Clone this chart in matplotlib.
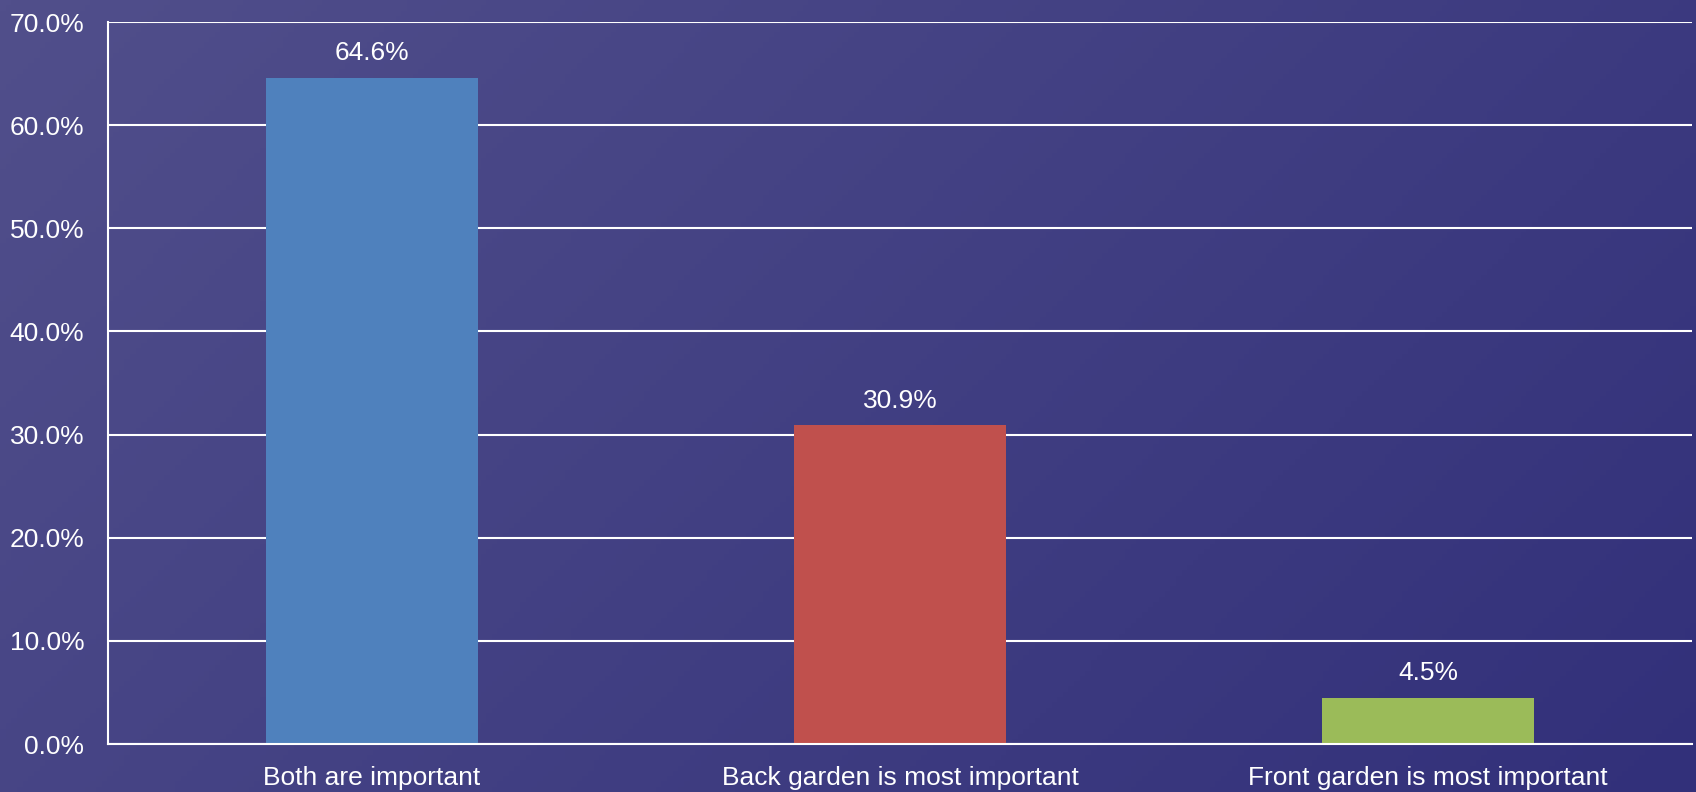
import numpy as np
import matplotlib
matplotlib.use('Agg')
import matplotlib.pyplot as plt
from matplotlib.colors import LinearSegmentedColormap

categories = ['Both are important', 'Back garden is most important', 'Front garden is most important']
values = [64.6, 30.9, 4.5]
bar_colors = ['#4F81BD', '#C0504D', '#9BBB59']
y_ticks = [0, 10, 20, 30, 40, 50, 60, 70]

plt.rcParams['font.family'] = ['Liberation Sans', 'DejaVu Sans']

fig = plt.figure(figsize=(16.96, 7.92), dpi=100)

# diagonal gradient background
bg = fig.add_axes([0, 0, 1, 1], zorder=0)
gx, gy = np.meshgrid(np.linspace(0, 1, 300), np.linspace(0, 1, 150))
grad = (gx * 0.75 + gy * 0.35) / 1.1
cmap = LinearSegmentedColormap.from_list('bg', ['#514F8B', '#32307A'])
bg.imshow(grad, cmap=cmap, aspect='auto', origin='upper', extent=[0, 1, 0, 1])
bg.set_axis_off()

ax = fig.add_axes([108 / 1696, 1 - 744 / 792, (1692 - 108) / 1696, (744 - 22) / 792], zorder=1)
ax.patch.set_alpha(0)

x = np.arange(len(categories))
bars = ax.bar(x, values, width=0.4, color=bar_colors, zorder=3)

for xi, v in zip(x, values):
    ax.annotate(f'{v:.1f}%', (xi, v), xytext=(0, 9), textcoords='offset points',
                ha='center', va='bottom', color='white', fontsize=19)

ax.set_xlim(-0.5, 2.5)
ax.set_ylim(0, 70)
ax.set_yticks(y_ticks)
ax.set_yticklabels([f'{t:.1f}%' for t in y_ticks])
ax.set_xticks(x)
ax.set_xticklabels(categories)
ax.tick_params(axis='both', length=0, colors='white', labelsize=19)
ax.tick_params(axis='y', pad=17)
ax.tick_params(axis='x', pad=16)

ax.yaxis.grid(True, color='white', linewidth=1.5, zorder=1)
ax.set_axisbelow(True)
for s in ['top', 'right']:
    ax.spines[s].set_visible(False)
for s in ['left', 'bottom']:
    ax.spines[s].set_color('white')
    ax.spines[s].set_linewidth(1.5)
    ax.spines[s].set_zorder(4)

fig.savefig('out.png', dpi=100)
